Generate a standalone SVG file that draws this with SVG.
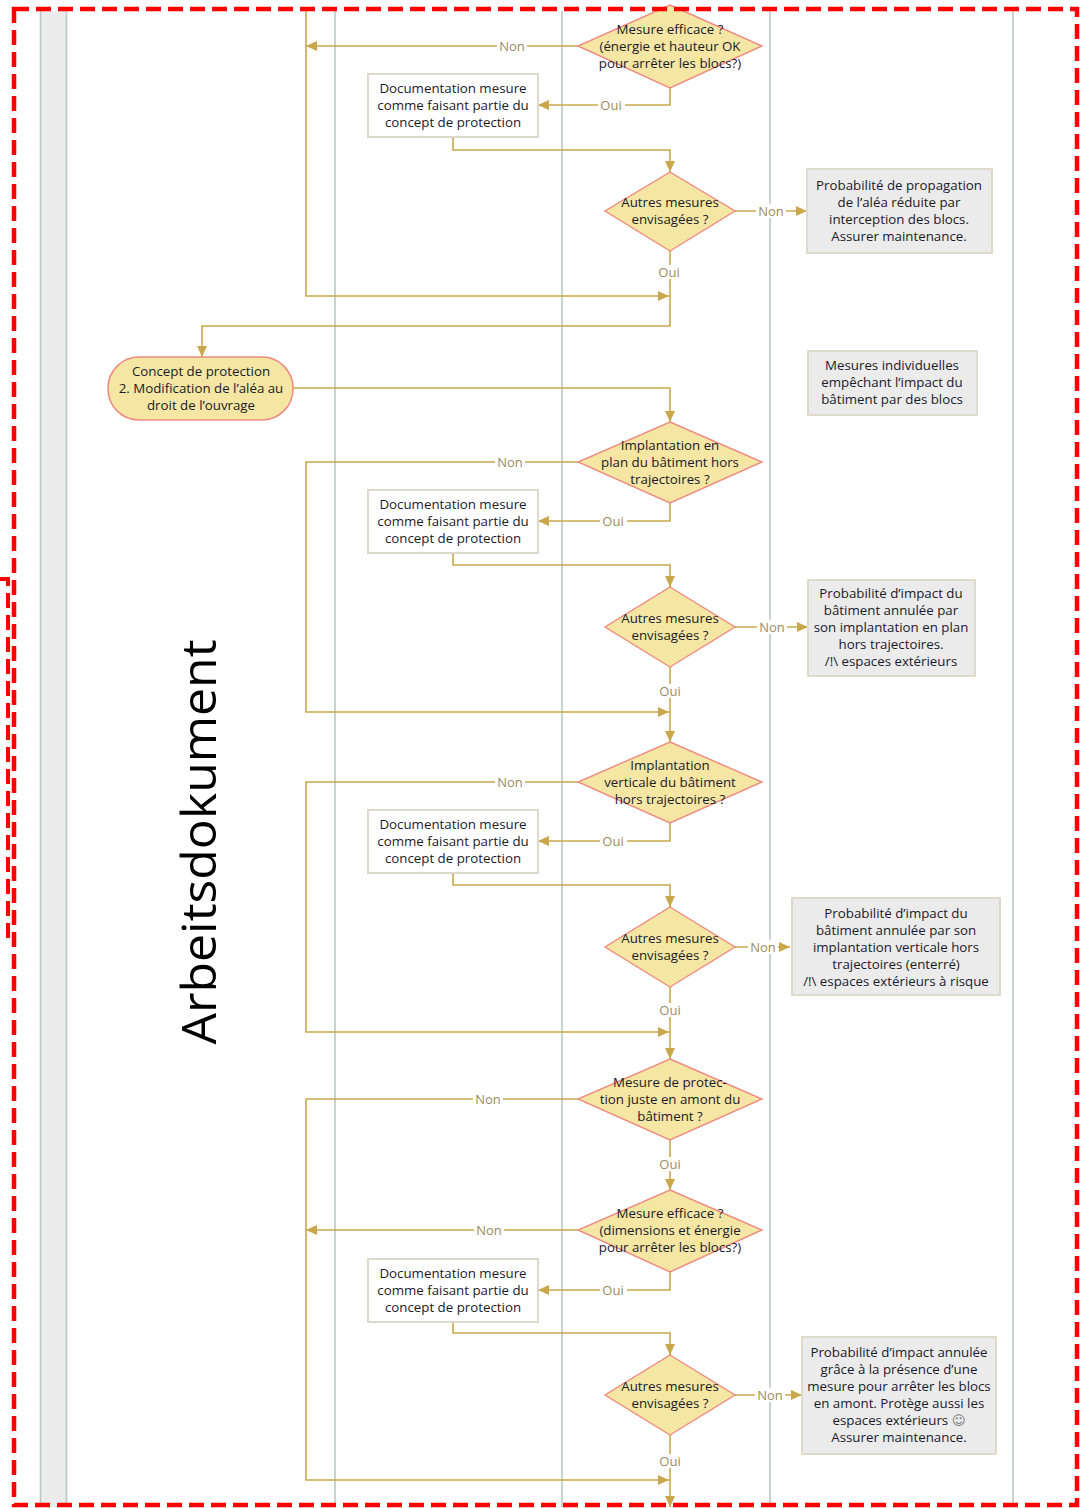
<svg xmlns="http://www.w3.org/2000/svg" width="1088" height="1508" viewBox="0 0 1088 1508">
  <defs>
    <marker id="arrow" markerUnits="userSpaceOnUse" markerWidth="11" markerHeight="10" refX="11" refY="5" orient="auto">
      <path d="M0,0 L11,5 L0,10 z" fill="#c9a84c"/>
    </marker>
    <style>
      .lane { stroke: #b9c8c3; stroke-width: 1.6; fill: none; }
      .flow { stroke: #c9a84c; stroke-width: 1.6; fill: none; marker-end: url(#arrow); }
      .dec { fill: #f5e6a3; stroke: #ef8a80; stroke-width: 1.4; }
      .doc { fill: #ffffff; stroke: #ddd9cc; stroke-width: 2; }
      .res { fill: #ebebeb; stroke: #dedbcc; stroke-width: 2; }
      .start { fill: #f5e6a3; stroke: #ef8a80; stroke-width: 1.6; }
      text { font-family: "Open Sans", "Liberation Sans", "DejaVu Sans", sans-serif; font-size: 13.3px; fill: #1a1a2a; text-anchor: middle; }
      .lbl { fill: #9a8b66; font-size: 13px; }
      .lblbg { fill: #ffffff; }
      .title { font-size: 48px; fill: #000000; }
    </style>
  </defs>

  <rect x="0" y="0" width="1088" height="1508" fill="#ffffff"/>

  <!-- swimlane frame -->
  <g id="lanes">
    <rect x="40" y="11" width="27" height="1496" fill="#ebebeb"/>
    <line class="lane" x1="40.5" y1="11" x2="40.5" y2="1507"/>
    <line class="lane" x1="66.5" y1="11" x2="66.5" y2="1507"/>
    <line class="lane" x1="335" y1="11" x2="335" y2="1507"/>
    <line class="lane" x1="562" y1="11" x2="562" y2="1507"/>
    <line class="lane" x1="770" y1="11" x2="770" y2="1507"/>
    <line class="lane" x1="1013" y1="11" x2="1013" y2="1507"/>
  </g>

  <text class="title" transform="translate(216,842) rotate(-90)" textLength="405" lengthAdjust="spacingAndGlyphs">Arbeitsdokument</text>

  <!-- connectors -->
  <g id="connectors">
    <path class="flow" d="M578,46 H306"/>
    <path class="flow" d="M306,10 V296 H669"/>
    <path class="flow" d="M670,88 V105 H538"/>
    <path class="flow" d="M453,137 V150 H670 V172"/>
    <path class="flow" d="M735,211 H807"/>
    <path class="flow" d="M670,251 V326 H202 V357"/>
    <path class="flow" d="M293,388 H670 V422"/>
    <path class="flow" d="M578,462 H306 V712 H669"/>
    <path class="flow" d="M670,503 V521 H538"/>
    <path class="flow" d="M453,553 V565 H670 V587"/>
    <path class="flow" d="M735,627 H808"/>
    <path class="flow" d="M670,667 V742"/>
    <path class="flow" d="M578,782 H306 V1032 H669"/>
    <path class="flow" d="M670,823 V841 H538"/>
    <path class="flow" d="M453,873 V885 H670 V907"/>
    <path class="flow" d="M735,947 H790"/>
    <path class="flow" d="M670,987 V1059"/>
    <path class="flow" d="M578,1099 H306 V1480 H669"/>
    <path class="flow" d="M670,1140 V1190"/>
    <path class="flow" d="M578,1230 H306"/>
    <path class="flow" d="M670,1272 V1290 H538"/>
    <path class="flow" d="M453,1322 V1333 H670 V1355"/>
    <path class="flow" d="M735,1395 H802"/>
    <path class="flow" d="M670,1435 V1507"/>

    <!-- branch labels -->
    <g>
      <rect class="lblbg" x="497" y="39" width="30" height="14"/><text class="lbl" x="512" y="51">Non</text>
      <rect class="lblbg" x="598" y="98" width="27" height="14"/><text class="lbl" x="611" y="110">Oui</text>
      <rect class="lblbg" x="756" y="204" width="30" height="14"/><text class="lbl" x="771" y="216">Non</text>
      <rect class="lblbg" x="656" y="265" width="27" height="14"/><text class="lbl" x="669" y="277">Oui</text>
      <rect class="lblbg" x="495" y="455" width="30" height="14"/><text class="lbl" x="510" y="467">Non</text>
      <rect class="lblbg" x="600" y="514" width="27" height="14"/><text class="lbl" x="613" y="526">Oui</text>
      <rect class="lblbg" x="757" y="620" width="30" height="14"/><text class="lbl" x="772" y="632">Non</text>
      <rect class="lblbg" x="657" y="684" width="27" height="14"/><text class="lbl" x="670" y="696">Oui</text>
      <rect class="lblbg" x="495" y="775" width="30" height="14"/><text class="lbl" x="510" y="787">Non</text>
      <rect class="lblbg" x="600" y="834" width="27" height="14"/><text class="lbl" x="613" y="846">Oui</text>
      <rect class="lblbg" x="748" y="940" width="30" height="14"/><text class="lbl" x="763" y="952">Non</text>
      <rect class="lblbg" x="657" y="1003" width="27" height="14"/><text class="lbl" x="670" y="1015">Oui</text>
      <rect class="lblbg" x="473" y="1092" width="30" height="14"/><text class="lbl" x="488" y="1104">Non</text>
      <rect class="lblbg" x="657" y="1157" width="27" height="14"/><text class="lbl" x="670" y="1169">Oui</text>
      <rect class="lblbg" x="474" y="1223" width="30" height="14"/><text class="lbl" x="489" y="1235">Non</text>
      <rect class="lblbg" x="600" y="1283" width="27" height="14"/><text class="lbl" x="613" y="1295">Oui</text>
      <rect class="lblbg" x="755" y="1388" width="30" height="14"/><text class="lbl" x="770" y="1400">Non</text>
      <rect class="lblbg" x="657" y="1454" width="27" height="14"/><text class="lbl" x="670" y="1466">Oui</text>
    </g>
  </g>

  <!-- decisions, documentation boxes and outcomes -->
  <g id="d1">
    <polygon class="dec" points="670,5 762,46 670,88 578,46"/>
    <text x="670" y="33.5">Mesure efficace ?</text>
    <text x="670" y="50.5">(énergie et hauteur OK</text>
    <text x="670" y="67.5">pour arrêter les blocs?)</text>
  </g>
  <g id="doc1">
    <rect class="doc" x="368" y="74" width="170" height="63"/>
    <text x="453" y="92.5">Documentation mesure</text>
    <text x="453" y="109.5">comme faisant partie du</text>
    <text x="453" y="126.5">concept de protection</text>
  </g>
  <g id="d2">
    <polygon class="dec" points="670,172 735,211 670,251 605,211"/>
    <text x="670" y="207">Autres mesures</text>
    <text x="670" y="224">envisagées ?</text>
  </g>
  <g id="res1">
    <rect class="res" x="807" y="169" width="185" height="84"/>
    <text x="899" y="189.5">Probabilité de propagation</text>
    <text x="899" y="206.5">de l’aléa réduite par</text>
    <text x="899" y="223.5">interception des blocs.</text>
    <text x="899" y="240.5">Assurer maintenance.</text>
  </g>
  <g id="res-individual">
    <rect class="res" x="808" y="351" width="169" height="64"/>
    <text x="892" y="369.5">Mesures individuelles</text>
    <text x="892" y="386.5">empêchant l’impact du</text>
    <text x="892" y="403.5">bâtiment par des blocs</text>
  </g>
  <g id="concept2">
    <rect class="start" x="108" y="357" width="185" height="63" rx="31" ry="31"/>
    <text x="201" y="375.5">Concept de protection</text>
    <text x="201" y="392.5">2. Modification de l’aléa au</text>
    <text x="201" y="409.5">droit de l’ouvrage</text>
  </g>
  <g id="d3">
    <polygon class="dec" points="670,422 762,462 670,503 578,462"/>
    <text x="670" y="449.5">Implantation en</text>
    <text x="670" y="466.5">plan du bâtiment hors</text>
    <text x="670" y="483.5">trajectoires ?</text>
  </g>
  <g id="doc2">
    <rect class="doc" x="368" y="490" width="170" height="63"/>
    <text x="453" y="508.5">Documentation mesure</text>
    <text x="453" y="525.5">comme faisant partie du</text>
    <text x="453" y="542.5">concept de protection</text>
  </g>
  <g id="d4">
    <polygon class="dec" points="670,587 735,627 670,667 605,627"/>
    <text x="670" y="623">Autres mesures</text>
    <text x="670" y="640">envisagées ?</text>
  </g>
  <g id="res2">
    <rect class="res" x="808" y="580" width="167" height="96"/>
    <text x="891" y="597.5">Probabilité d’impact du</text>
    <text x="891" y="614.5">bâtiment annulée par</text>
    <text x="891" y="631.5">son implantation en plan</text>
    <text x="891" y="648.5">hors trajectoires.</text>
    <text x="891" y="665.5">/!\ espaces extérieurs</text>
  </g>
  <g id="d5">
    <polygon class="dec" points="670,742 762,782 670,823 578,782"/>
    <text x="670" y="769.5">Implantation</text>
    <text x="670" y="786.5">verticale du bâtiment</text>
    <text x="670" y="803.5">hors trajectoires ?</text>
  </g>
  <g id="doc3">
    <rect class="doc" x="368" y="810" width="170" height="63"/>
    <text x="453" y="828.5">Documentation mesure</text>
    <text x="453" y="845.5">comme faisant partie du</text>
    <text x="453" y="862.5">concept de protection</text>
  </g>
  <g id="d6">
    <polygon class="dec" points="670,907 735,947 670,987 605,947"/>
    <text x="670" y="943">Autres mesures</text>
    <text x="670" y="960">envisagées ?</text>
  </g>
  <g id="res3">
    <rect class="res" x="792" y="898" width="208" height="97"/>
    <text x="896" y="917.5">Probabilité d’impact du</text>
    <text x="896" y="934.5">bâtiment annulée par son</text>
    <text x="896" y="951.5">implantation verticale hors</text>
    <text x="896" y="968.5">trajectoires (enterré)</text>
    <text x="896" y="985.5">/!\ espaces extérieurs à risque</text>
  </g>
  <g id="d7">
    <polygon class="dec" points="670,1059 762,1099 670,1140 578,1099"/>
    <text x="670" y="1086.5">Mesure de protec-</text>
    <text x="670" y="1103.5">tion juste en amont du</text>
    <text x="670" y="1120.5">bâtiment ?</text>
  </g>
  <g id="d8">
    <polygon class="dec" points="670,1190 762,1230 670,1272 578,1230"/>
    <text x="670" y="1217.5">Mesure efficace ?</text>
    <text x="670" y="1234.5">(dimensions et énergie</text>
    <text x="670" y="1251.5">pour arrêter les blocs?)</text>
  </g>
  <g id="doc4">
    <rect class="doc" x="368" y="1259" width="170" height="63"/>
    <text x="453" y="1277.5">Documentation mesure</text>
    <text x="453" y="1294.5">comme faisant partie du</text>
    <text x="453" y="1311.5">concept de protection</text>
  </g>
  <g id="d9">
    <polygon class="dec" points="670,1355 735,1395 670,1435 605,1395"/>
    <text x="670" y="1391">Autres mesures</text>
    <text x="670" y="1408">envisagées ?</text>
  </g>
  <g id="res4">
    <rect class="res" x="802" y="1337" width="194" height="117"/>
    <text x="899" y="1356.5">Probabilité d’impact annulée</text>
    <text x="899" y="1373.5">grâce à la présence d’une</text>
    <text x="899" y="1390.5">mesure pour arrêter les blocs</text>
    <text x="899" y="1407.5">en amont. Protège aussi les</text>
    <text x="899" y="1424.5">espaces extérieurs <tspan style="font-family: 'DejaVu Sans', sans-serif; fill: #777777">☺</tspan></text>
    <text x="899" y="1441.5">Assurer maintenance.</text>
  </g>

  <!-- selection outlines -->
  <g id="selection" fill="none" stroke="#ff0000" stroke-width="4.5" stroke-dasharray="15 7">
    <rect x="14" y="9" width="1063" height="1496"/>
    <path d="M0,579 H8 V943" stroke-width="4"/>
  </g>
</svg>
